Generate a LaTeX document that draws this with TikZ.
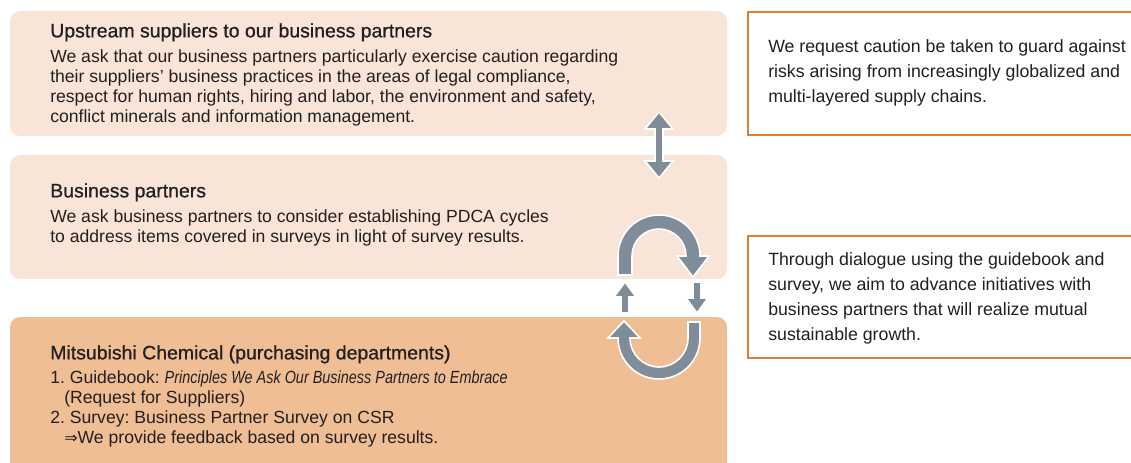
\documentclass[tikz,border=0pt]{standalone}
\usepackage{fontspec}
\setmainfont{Liberation Sans}
\newfontfamily\headsans[FakeBold=0.8]{Liberation Sans}
\newfontfamily\narrowsans[FakeStretch=0.82]{Liberation Sans}
\newfontfamily\dvsans{DejaVu Sans}
\usetikzlibrary{positioning}
\frenchspacing
\definecolor{peachlight}{HTML}{F9E5D7}
\definecolor{peachdark}{HTML}{F0BE95}
\definecolor{noteorange}{HTML}{E27D2F}
\definecolor{arrowgray}{HTML}{7E8D99}
\definecolor{inkgray}{HTML}{231F20}
\tikzstyle{band_box} = [rectangle, rounded corners=7.5pt, fill=peachlight, draw=none, minimum width=537.75pt, inner sep=0pt]
\tikzstyle{note_box} = [rectangle, draw=noteorange, line width=1.5pt, fill=white, minimum width=294pt, inner sep=0pt]
\tikzstyle{head_text} = [anchor=north west, inner sep=0pt, text=inkgray, font=\headsans\fontsize{14.6}{15}\selectfont]
\tikzstyle{body_text} = [anchor=north west, inner sep=0pt, align=left, text=inkgray, font=\fontsize{13.2}{15}\selectfont]
\tikzstyle{note_text} = [anchor=north west, inner sep=0pt, align=left, text=inkgray, font=\fontsize{13.3}{18.75}\selectfont]
\tikzstyle{loop_arrow} = [fill=arrowgray, draw=white, line width=1.2pt, line join=miter]

\begin{document}
\begin{tikzpicture}[x=0.75pt, y=0.75pt]
\useasboundingbox (0,0) rectangle (1131,-463);

% Ebenen der Lieferkette
\node (upstream) [band_box, minimum height=93.75pt] at (368.5,-73.5) {};
\node (partners) [band_box, minimum height=93pt] at (368.5,-217) {};
\node (mcc) [band_box, fill=peachdark, minimum height=122.25pt] at (368.5,-398.5) {};

\node (upstream_head) [head_text] at (50,-23) {Upstream suppliers to our business partners};
\node (upstream_body) [body_text] at (50,-49) {We ask that our business partners particularly exercise caution regarding\\
their suppliers' business practices in the areas of legal compliance,\\
respect for human rights, hiring and labor, the environment and safety,\\
conflict minerals and information management.};

\node (partners_head) [head_text] at (50,-183) {Business partners};
\node (partners_body) [body_text] at (50,-209) {We ask business partners to consider establishing PDCA cycles\\
to address items covered in surveys in light of survey results.};

\node (mcc_head) [head_text] at (50,-345) {Mitsubishi Chemical (purchasing departments)};
\node (mcc_body) [body_text] at (50,-370) {1. Guidebook: {\narrowsans\itshape Principles We Ask Our Business Partners to Embrace}\\
\hspace*{10.5pt}(Request for Suppliers)\\
2. Survey: Business Partner Survey on CSR\\
\hspace*{10.5pt}{\dvsans\fontsize{12}{15}\selectfont ⇒}We provide feedback based on survey results.};

% Hinweise rechts
\node (risk_note) [note_box, minimum height=92.25pt] at (944,-73.5) {};
\node (risk_text) [note_text] at (768,-39) {We request caution be taken to guard against\\
risks arising from increasingly globalized and\\
multi-layered supply chains.};
\node (dialog_note) [note_box, minimum height=91.5pt] at (944,-297) {};
\node (dialog_text) [note_text] at (768,-252) {Through dialogue using the guidebook and\\
survey, we aim to advance initiatives with\\
business partners that will realize mutual\\
sustainable growth.};

% Pfeile zwischen den Ebenen
\draw [loop_arrow] (659,-112) -- (673,-129) -- (663,-129) -- (663,-161) -- (673,-161)
  -- (659,-178) -- (645,-161) -- (655,-161) -- (655,-129) -- (645,-129) -- cycle;
\draw [loop_arrow] (618,-275) -- (618,-256) arc[start angle=180, end angle=0, radius=41]
  -- (709,-256) -- (693,-277) -- (677,-256) -- (686,-256)
  arc[start angle=0, end angle=180, radius=27] -- (632,-275) -- cycle;
\draw [loop_arrow] (625,-282) -- (636,-297) -- (629,-297) -- (629,-313) -- (621,-313)
  -- (621,-297) -- (614,-297) -- cycle;
\draw [loop_arrow] (697,-313) -- (708,-298) -- (701,-298) -- (701,-282) -- (693,-282)
  -- (693,-298) -- (686,-298) -- cycle;
\draw [loop_arrow] (700,-322) -- (700,-338) arc[start angle=0, end angle=-180, radius=41]
  -- (608,-338) -- (624,-321) -- (640,-338) -- (630,-338)
  arc[start angle=180, end angle=360, radius=29] -- (688,-322) -- cycle;
\end{tikzpicture}
\end{document}
